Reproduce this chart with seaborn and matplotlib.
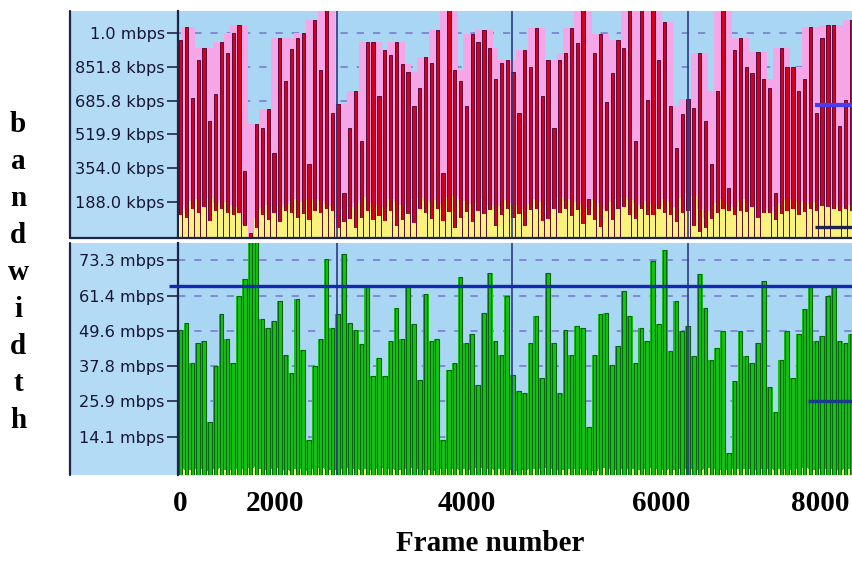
import numpy as np
import pandas as pd
import matplotlib
matplotlib.use("Agg")
import matplotlib.pyplot as plt
from matplotlib.patches import Rectangle
from matplotlib.lines import Line2D
import seaborn as sns

# ---------------- data ----------------
# upper panel: per-interval peak (red bar top), low end of bar, average (yellow), kbps
up_peak = [983, 1047, 701, 884, 948, 588, 721, 973, 919, 1022, 1057, 341, 35, 573, 553, 647,
           430, 993, 785, 943, 993, 1022, 376, 1082, 835, 1150, 627, 672, 232, 553, 736,
           489, 973, 973, 711, 934, 909, 973, 869, 825, 662, 746, 899, 874, 1032, 331, 1150,
           835, 785, 662, 1017, 973, 1032, 948, 795, 874, 884, 825, 627, 934, 850, 1042, 711,
           884, 553, 884, 919, 1042, 968, 1150, 203, 919, 1017, 677, 820, 983, 948, 1150, 489,
           1150, 687, 1150, 884, 1072, 662, 455, 622, 696, 652, 919, 588, 376, 736, 1150, 257,
           934, 993, 850, 820, 924, 795, 746, 232, 948, 850, 850, 736, 795, 1047, 627, 993,
           1057, 1057, 563, 687, 1082]
up_low = [120, 110, 150, 130, 160, 95, 140, 150, 130, 120, 130, 70,
          0,
          60, 120, 100, 130, 90, 140, 130, 110, 125, 100, 140,
          130, 150, 140, 60, 90, 105, 60, 110, 140, 100, 115, 95,
          140, 70, 100, 125, 85, 150, 130, 105, 150, 95, 135, 60,
          110, 135, 90, 140, 125, 145, 70, 120, 150, 110, 125, 70,
          145, 150, 95, 105, 150, 130, 150, 115, 145, 80, 120, 100,
          65, 140, 100, 150, 160, 120, 105, 150, 120, 120, 150, 130,
          120, 90, 130, 140, 70, 40, 60, 105, 130, 150, 140, 120,
          140, 135, 160, 110, 130, 130, 100, 125, 140, 150, 120, 135,
          150, 140, 165, 160, 150, 140, 150, 140]
up_avg = [170, 150, 190, 200, 175, 205, 180, 195, 185, 170, 160,
          80, 0,
          110, 150, 170, 160, 165, 175, 190, 200, 185, 195, 200,
          190, 175, 165, 110, 150, 160, 180, 195, 210, 180, 170, 160,
          200, 185, 170, 175, 200, 205, 190, 180, 195, 175, 210, 215,
          200, 190, 175, 180, 205, 170, 150, 165, 195, 180, 170, 150,
          175, 200, 185, 170, 195, 210, 190, 200, 185, 175, 160, 195,
          180, 150, 185, 200, 210, 195, 180, 170, 190, 175, 165, 200,
          185, 160, 205, 230, 215, 150, 110, 140, 180, 200, 175, 160,
          185, 200, 180, 170, 150, 140, 160, 180, 195, 200, 185, 190,
          175, 185, 195, 180, 170, 160, 175, 170]

# lower panel: per-interval bandwidth (green), mbps, and yellow base
low_peak = [50.0, 52.3, 38.8, 45.5, 46.1, 19.1, 37.7, 55.1, 46.7, 38.8, 61.3, 66.9, 80.0, 80.0,
            53.4, 50.6, 52.9, 59.6, 41.6, 35.4, 60.2, 43.3, 13.0, 37.7, 46.7, 73.6, 50.6, 55.1,
            75.3, 52.3, 50.0,
            45.0, 64.1, 34.3, 40.5, 34.3, 46.1, 57.3, 46.7, 64.1, 51.7, 33.2, 61.8, 46.1, 46.7,
            13.0, 36.6, 38.8, 67.5, 45.5, 48.4, 31.5, 55.7, 69.1, 46.1, 41.6, 61.3, 34.9, 29.3,
            28.7, 45.5, 54.5, 33.8, 69.1, 45.5, 28.7, 50.0, 41.6, 51.2, 50.6, 17.5, 41.6, 55.1,
            55.7, 38.2, 44.4, 63.0, 54.5, 38.8,
            50.6, 46.1, 73.1, 51.7, 76.5, 42.7, 59.6, 49.5, 51.2, 41.0, 68.6, 57.3, 39.9, 43.9,
            49.5, 8.5, 32.6, 49.5, 41.0, 38.8, 45.5, 66.3, 30.9, 22.5, 39.9, 49.5, 33.8, 48.4,
            56.8, 64.1, 46.1, 47.8, 61.3, 64.1, 46.1, 45.5, 48.4]
low_base = [3.2, 3.0, 2.8, 3.4, 3.1, 2.6, 3.3, 3.5, 3.0, 2.9, 3.4, 3.2, 3.6, 3.8, 3.1, 2.9, 3.3, 3.5, 3.0, 2.7,
            3.2, 3.4, 2.5, 3.1, 3.6, 3.3, 3.0, 2.8, 3.2, 3.5,
            3.1, 3.0, 3.4, 2.9, 3.2, 3.6, 3.3, 3.0, 2.8, 3.1, 3.5, 3.2, 2.9, 3.0, 2.6, 3.3, 3.4, 3.1, 3.0, 3.2,
            2.9, 3.5, 3.7, 3.2, 3.0, 3.3, 3.1, 2.8, 2.7, 3.0,
            3.3, 3.1, 3.4, 3.6, 3.2, 3.0, 2.9, 3.2, 3.4, 3.1, 3.0, 2.6, 3.3, 3.5, 3.2, 3.0, 3.1, 3.4, 3.2, 3.0,
            3.3, 3.6, 3.1, 2.9, 3.2, 3.0, 3.4, 3.1, 3.3, 3.0,
            3.2, 3.5, 3.1, 3.0, 2.8, 3.2, 3.4, 3.1, 3.3, 3.0, 3.2, 3.4, 2.9, 3.1, 3.3, 3.0, 3.2, 3.5, 3.1, 3.0,
            3.2, 3.3, 3.1, 3.0, 3.2, 3.1]

# reference levels (horizontal markers)
low_threshold = 64.75          # long blue line, mbps
low_marker = 25.9              # short line lower right, mbps
up_marker_hi = 666             # short violet line upper right, kbps
up_marker_lo = 63              # short dark line upper right, kbps
marker_start = [108.8, 107.6]  # interval index where short markers begin (upper, lower)

up_ticks = [188.0, 354.0, 519.9, 685.8, 851.8, 1017.7]
up_ticklabels = ["188.0 kbps", "354.0 kbps", "519.9 kbps", "685.8 kbps", "851.8 kbps", "1.0 mbps"]
low_ticks = [14.1, 25.9, 37.8, 49.6, 61.4, 73.3]
low_ticklabels = ["14.1 mbps", "25.9 mbps", "37.8 mbps", "49.6 mbps", "61.4 mbps", "73.3 mbps"]
frame_tick_pos = [-0.1, 16.2, 49.1, 82.4, 109.7]
frame_tick_labels = ["0", "2000", "4000", "6000", "8000"]
separator_pos = [26.8, 56.8, 87.0]
ylabel_letters = list("bandwidth")

assert len(up_peak) == len(up_low) == len(up_avg) == 116
assert len(low_peak) == len(low_base) == 116

idx = np.arange(len(up_peak))
df_up = pd.DataFrame({"interval": idx, "peak": up_peak, "low": up_low, "avg": up_avg})
# pink "peak-hold" envelope: highest of each bar and its neighbours
df_up["hold"] = df_up["peak"].rolling(3, center=True, min_periods=1).max()
df_low = pd.DataFrame({"interval": idx, "peak": low_peak, "base": low_base})

# ---------------- style ----------------
sns.set_theme(style="white")
plt.rcParams["font.family"] = ["DejaVu Sans"]

W, H = 853, 580
BG = "#a8d6f3"
LABEL_BG = "#b3dbf5"
PINK = "#f4a6e6"
YELLOW = "#f9f37e"
RED = "#d6001c"
RED_EDGE = "#5c0a3c"
GREEN = "#14c414"
GREEN_EDGE = "#0a6414"
GRID = "#8080d4"
FRAME = "#1c2448"
SEP = "#2c3c80"
TXT = "#161634"
XLIM = (-0.46, 115.3)
RED_W = 0.56
GREEN_W = 0.6

fig = plt.figure(figsize=(W / 100, H / 100), dpi=100)
fig.patch.set_facecolor("white")

ax_up = fig.add_axes([178 / W, 1 - 238 / H, 675 / W, 227 / H])
ax_low = fig.add_axes([178 / W, 1 - 475 / H, 675 / W, 232 / H])

# label areas (left light-blue strips)
for (y0, y1) in [(11, 238), (243, 475)]:
    fig.patches.append(Rectangle((70 / W, 1 - y1 / H), 108 / W, (y1 - y0) / H,
                                 transform=fig.transFigure, facecolor=LABEL_BG,
                                 edgecolor="none", zorder=-2))
    fig.lines.append(Line2D([70 / W, 70 / W], [1 - y1 / H, 1 - y0 / H],
                            transform=fig.transFigure, color=FRAME, lw=1.6))
fig.lines.append(Line2D([70 / W, 1.0], [1 - 238 / H, 1 - 238 / H],
                        transform=fig.transFigure, color=FRAME, lw=1.6))

# ---------------- upper panel ----------------
ax = ax_up
ax.set_facecolor(BG)
ax.fill_between(df_up["interval"], 0, df_up["hold"], step="mid", color=PINK, lw=0, zorder=1)
ax.fill_between(df_up["interval"], 0, df_up["avg"], step="mid", color=YELLOW, lw=0, zorder=2)
sns.barplot(data=df_up, x="interval", y="peak", native_scale=True, width=RED_W,
            color=RED, saturation=1, edgecolor=RED_EDGE, linewidth=0.7,
            ax=ax, zorder=3)
sns.barplot(data=df_up, x="interval", y="low", native_scale=True, width=RED_W + 0.06,
            color=YELLOW, saturation=1, edgecolor="none", linewidth=0,
            ax=ax, zorder=4)
ax.set_ylim(9, 1128)
ax.set_yticks(up_ticks)
ax.set_yticklabels(up_ticklabels)
ax.hlines(up_marker_hi, marker_start[0], XLIM[1] + 1, color="#4a3cf0", lw=3.0, zorder=6)
ax.hlines(up_marker_lo, marker_start[0], XLIM[1] + 1, color="#20224e", lw=2.4, zorder=6)

# ---------------- lower panel ----------------
ax = ax_low
ax.set_facecolor(BG)
ax.fill_between(df_low["interval"], 0, df_low["peak"], step="mid", color=GREEN, lw=0, zorder=1)
ax.fill_between(df_low["interval"], 0, df_low["base"], step="mid", color=YELLOW, lw=0, zorder=2)
sns.barplot(data=df_low, x="interval", y="peak", native_scale=True, width=GREEN_W,
            color=GREEN, saturation=1, edgecolor=GREEN_EDGE, linewidth=0.8,
            ax=ax, zorder=3)
ax.set_ylim(1.25, 79.0)
ax.set_yticks(low_ticks)
ax.set_yticklabels(low_ticklabels)
ax.hlines(low_threshold, -2.0, XLIM[1] + 1, color="#1428b0", lw=2.4, zorder=6, clip_on=False)
ax.hlines(low_marker, marker_start[1], XLIM[1] + 1, color="#1a3a8a", lw=2.4, zorder=6)

# ---------------- shared styling ----------------
for ax in (ax_up, ax_low):
    ax.set_xlim(*XLIM)
    ax.set_axisbelow(True)
    ax.yaxis.grid(True, linestyle=(0, (4, 5)), color=GRID, lw=1.3)
    ax.xaxis.grid(False)
    ax.set_xlabel("")
    ax.set_ylabel("")
    for s in ("top", "right", "bottom"):
        ax.spines[s].set_visible(False)
    ax.spines["left"].set_color(FRAME)
    ax.spines["left"].set_linewidth(1.6)
    ax.tick_params(axis="y", left=True, length=8, width=1.1, color=TXT, pad=1.5,
                   labelsize=11.6, labelcolor=TXT)
    for x in separator_pos:
        ax.axvline(x, color=SEP, lw=1.2, zorder=5)

ax_up.set_xticks([])
ax_low.set_xticks(frame_tick_pos)
ax_low.set_xticklabels(frame_tick_labels, fontsize=21, fontweight="bold",
                       family=["Liberation Serif", "DejaVu Serif"], color="black")
ax_low.tick_params(axis="x", bottom=False, length=0, pad=11)
ax_low.set_xlabel("Frame number", fontsize=21, fontweight="bold",
                  family=["Liberation Serif", "DejaVu Serif"], color="black")
ax_low.xaxis.set_label_coords((490 - 178) / 675, -0.235)

for k, ch in enumerate(ylabel_letters):
    fig.text(18 / W, 1 - (125 + 36.9 * k) / H, ch, fontsize=21, fontweight="bold",
             family=["Liberation Serif", "DejaVu Serif"], ha="center", va="center",
             color="black")

fig.savefig("out.png", dpi=100)
